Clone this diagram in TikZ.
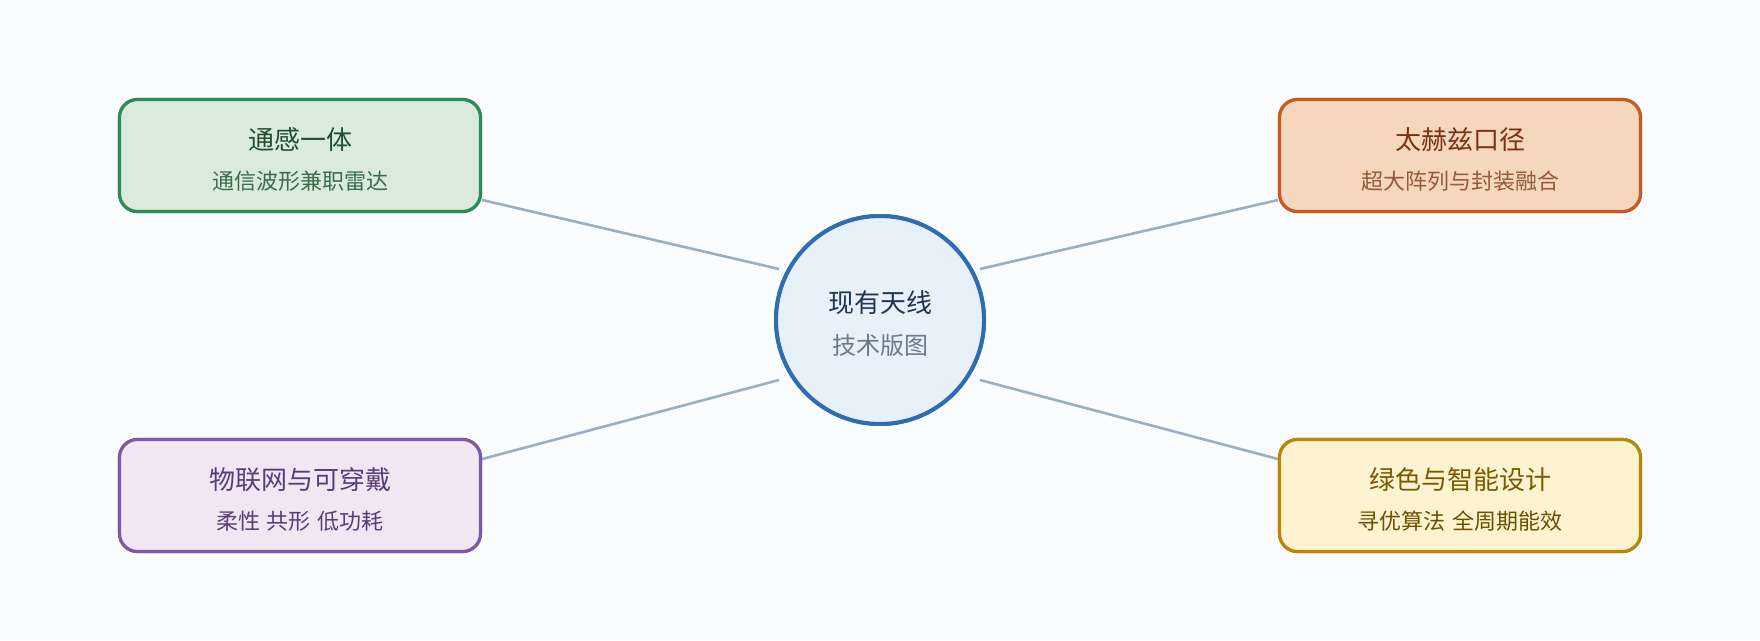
\documentclass[tikz,border=0pt]{standalone}
\usepackage{fontspec}
\setmainfont{Noto Sans CJK SC}
\definecolor{bgc}{HTML}{FBFCFE}
\definecolor{linec}{HTML}{9AAFC3}
\definecolor{gfill}{HTML}{DAEBDB}
\definecolor{gdraw}{HTML}{2E8B57}
\definecolor{gtext}{HTML}{1F4D2E}
\definecolor{gsub}{HTML}{3D6B4B}
\definecolor{ofill}{HTML}{F5D7BD}
\definecolor{odraw}{HTML}{C55A22}
\definecolor{otext}{HTML}{7A3212}
\definecolor{osub}{HTML}{955A3C}
\definecolor{pfill}{HTML}{F3E6F3}
\definecolor{pdraw}{HTML}{7B5AA6}
\definecolor{ptext}{HTML}{5A3C7C}
\definecolor{psub}{HTML}{5A3C7C}
\definecolor{yfill}{HTML}{FEF3D0}
\definecolor{ydraw}{HTML}{B8860B}
\definecolor{ytext}{HTML}{7A5A00}
\definecolor{ysub}{HTML}{6B5000}
\definecolor{cfill}{HTML}{E8F1FA}
\definecolor{cdraw}{HTML}{2E6DB4}
\definecolor{ctext}{HTML}{1F3550}
\definecolor{csub}{HTML}{6B7A8A}
\newcommand{\wsp}{\hspace{6.5pt}}
\begin{document}
\begin{tikzpicture}[x=1pt,y=-1pt,
  box/.style={rectangle, rounded corners=18pt, line width=3.2pt, minimum width=361pt, minimum height=112pt, inner sep=0pt},
  hub/.style={circle, line width=4pt, minimum size=208pt, inner sep=0pt},
  ttl/.style={anchor=base, inner sep=0pt, font=\fontsize{26}{30}\selectfont},
  sub/.style={anchor=base, inner sep=0pt, font=\fontsize{22}{26}\selectfont},
  csubt/.style={anchor=base, inner sep=0pt, font=\fontsize{24}{28}\selectfont},
  conn/.style={draw=linec, line width=2.6pt}]
\fill[bgc] (0,0) rectangle (1760,640);
% nodes
\node[hub, draw=cdraw, fill=cfill] (c) at (880,320) {};
\node[box, draw=gdraw, fill=gfill] (g) at (300,155.5) {};
\node[box, draw=odraw, fill=ofill] (o) at (1460,155.5) {};
\node[box, draw=pdraw, fill=pfill] (p) at (300,495.5) {};
\node[box, draw=ydraw, fill=yfill] (y) at (1460,495.5) {};
% connectors
\draw[conn] ([yshift=-44.5pt]g.east) -- ([shift={(-101pt,51pt)}]c.center);
\draw[conn] ([yshift=36.5pt]p.east) -- ([shift={(-101pt,-60pt)}]c.center);
\draw[conn] ([shift={(100pt,51pt)}]c.center) -- ([yshift=-44.5pt]o.west);
\draw[conn] ([shift={(100pt,-60pt)}]c.center) -- ([yshift=36.5pt]y.west);
% redraw shapes over connector ends
\node[hub, draw=cdraw, fill=cfill] at (c.center) {};
\node[box, draw=gdraw, fill=gfill] at (g.center) {};
\node[box, draw=odraw, fill=ofill] at (o.center) {};
\node[box, draw=pdraw, fill=pfill] at (p.center) {};
\node[box, draw=ydraw, fill=yfill] at (y.center) {};
% texts
\node[ttl, text=ctext] (ct) at (880,312.5) {现有天线};
\node[csubt, text=csub] (cs) at (880,354.5) {技术版图};
\node[ttl, text=gtext] (gt) at (300,149.5) {通感一体};
\node[sub, text=gsub] (gs) at (300,189) {通信波形兼职雷达};
\node[ttl, text=otext] (ot) at (1460,149.5) {太赫兹口径};
\node[sub, text=osub] (os) at (1460,189) {超大阵列与封装融合};
\node[ttl, text=ptext] (pt) at (300,489.5) {物联网与可穿戴};
\node[sub, text=psub] (ps) at (300,529) {柔性\wsp 共形\wsp 低功耗};
\node[ttl, text=ytext] (yt) at (1460,489.5) {绿色与智能设计};
\node[sub, text=ysub] (ys) at (1460,529) {寻优算法\wsp 全周期能效};
\end{tikzpicture}
\end{document}
